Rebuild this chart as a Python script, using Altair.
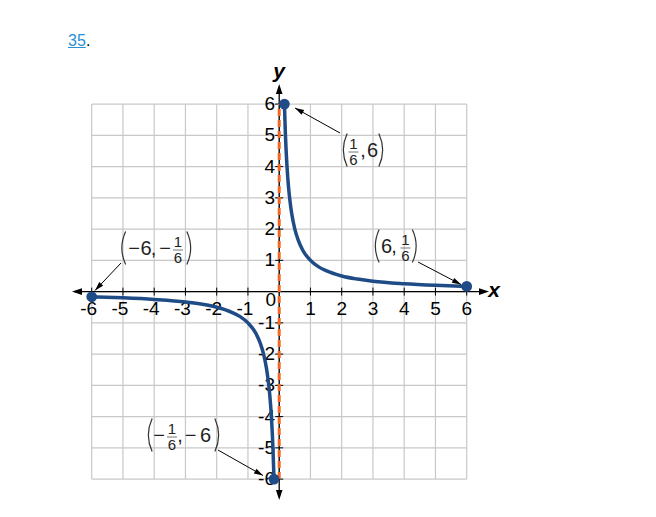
import math
import altair as alt
import pandas as pd

# ---------------- data ----------------
grid_values = [-6, -5, -4, -3, -2, -1, 0, 1, 2, 3, 4, 5, 6]
tick_values = [-6, -5, -4, -3, -2, -1, 1, 2, 3, 4, 5, 6]
tick_labels = ["-6", "-5", "-4", "-3", "-2", "-1", "1", "2", "3", "4", "5", "6"]

pos_branch_x = [0.1667, 0.2, 0.25, 0.3, 0.35, 0.4, 0.5, 0.6, 0.75, 1.0, 1.25, 1.5, 2.0, 2.5, 3.0, 4.0, 5.0, 6.0]
pos_branch_y = [6.0, 5.0, 4.0, 3.33, 2.86, 2.5, 2.0, 1.67, 1.33, 1.0, 0.8, 0.67, 0.5, 0.4, 0.33, 0.25, 0.2, 0.1667]
neg_branch_x = [-6.0, -5.0, -4.0, -3.0, -2.5, -2.0, -1.5, -1.25, -1.0, -0.75, -0.6, -0.5, -0.4, -0.35, -0.3, -0.25, -0.2, -0.1667]
neg_branch_y = [-0.1667, -0.2, -0.25, -0.33, -0.4, -0.5, -0.67, -0.8, -1.0, -1.33, -1.67, -2.0, -2.5, -2.86, -3.33, -4.0, -5.0, -6.0]

endpoint_x = [0.1667, 6.0, -6.0, -0.1667]
endpoint_y = [6.0, 0.1667, -0.1667, -6.0]

label_tokens = {
    "A": ["(", "1/6", ",", "6", ")"],
    "B": ["(", "6", ",", "1/6", ")"],
    "C": ["(", "\u2212", "6", ",", "\u2212", "1/6", ")"],
    "D": ["(", "\u2212", "1/6", ",", "\u2212", "6", ")"],
}

# ---------------- layout (pixels on the page) ----------------
U = 31.25          # pixels per unit
X0, Y0 = 279.2, 291.6  # page position of the origin
W, H = 640, 496
MARGIN = 8


def px2x(p):
    return (p - X0) / U


def py2y(p):
    return (Y0 - p) / U


xs = alt.Scale(domain=[px2x(MARGIN), px2x(MARGIN + W)], nice=False, zero=False)
ys = alt.Scale(domain=[py2y(MARGIN + H), py2y(MARGIN)], nice=False, zero=False)


def X(f):
    return alt.X(f, type="quantitative", scale=xs, axis=None)


def Y(f):
    return alt.Y(f, type="quantitative", scale=ys, axis=None)


FONT = "Liberation Sans"
BLUE = "#1f4c87"
ORANGE = "#f26522"
GRID = "#c8c8c8"

layers = []

# grid
gv = pd.DataFrame({"v": grid_values, "lo": -6, "hi": 6})
layers.append(alt.Chart(gv).mark_rule(color=GRID, strokeWidth=1.2).encode(x=X("v"), y=Y("lo"), y2="hi"))
layers.append(alt.Chart(gv).mark_rule(color=GRID, strokeWidth=1.2).encode(y=Y("v"), x=X("lo"), x2="hi"))

# axes lines
ax = pd.DataFrame({"x": [px2x(74)], "x2": [px2x(484)], "y": [0.0]})
layers.append(alt.Chart(ax).mark_rule(color="black", strokeWidth=1.3).encode(x=X("x"), x2="x2", y=Y("y")))
ay = pd.DataFrame({"y": [py2y(495)], "y2": [py2y(89)], "x": [0.0]})
layers.append(alt.Chart(ay).mark_rule(color="black", strokeWidth=1.3).encode(y=Y("y"), y2="y2", x=X("x")))

# axis arrowheads (tip at origin of the path)
axis_arrows = pd.DataFrame({
    "x": [px2x(72), px2x(489), 0.0, 0.0],
    "y": [0.0, 0.0, py2y(84), py2y(500)],
    "angle": [270, 90, 0, 180],
})
layers.append(alt.Chart(axis_arrows).mark_point(
    shape="M0,0L0.33,1L-0.33,1Z", filled=True, size=400, color="black", opacity=1, strokeWidth=0
).encode(x=X("x"), y=Y("y"), angle=alt.Angle("angle:Q", scale=None)))

# tick marks
tk = pd.DataFrame({"v": tick_values, "lo": -4 / U, "hi": 4 / U, "z": 0.0})
layers.append(alt.Chart(tk).mark_rule(color="black", strokeWidth=1).encode(x=X("v"), y=Y("lo"), y2="hi"))
layers.append(alt.Chart(tk).mark_rule(color="black", strokeWidth=1).encode(y=Y("v"), x=X("lo"), x2="hi"))

# tick labels
TICK_FS = 19
xl = pd.DataFrame({"v": tick_values, "t": tick_labels, "y": py2y(309)})
layers.append(alt.Chart(xl).mark_text(font=FONT, fontSize=TICK_FS, align="right", baseline="middle", dx=5.5, color="black")
              .encode(x=X("v"), y=Y("y"), text="t:N"))
yl = pd.DataFrame({"v": tick_values, "t": tick_labels, "x": px2x(275)})
layers.append(alt.Chart(yl).mark_text(font=FONT, fontSize=TICK_FS, align="right", baseline="middle", color="black")
              .encode(y=Y("v"), x=X("x"), text="t:N"))
zl = pd.DataFrame({"x": [px2x(276)], "y": [py2y(300)], "t": ["0"]})
layers.append(alt.Chart(zl).mark_text(font=FONT, fontSize=TICK_FS, align="right", baseline="middle", color="black")
              .encode(x=X("x"), y=Y("y"), text="t:N"))

# axis titles
at = pd.DataFrame({"x": [px2x(494), px2x(279)], "y": [py2y(291), py2y(72)], "t": ["x", "y"]})
layers.append(alt.Chart(at).mark_text(font=FONT, fontSize=21, fontWeight="bold", fontStyle="italic",
                                      align="center", baseline="middle", color="black")
              .encode(x=X("x"), y=Y("y"), text="t:N"))

# asymptote
asy = pd.DataFrame({"x": [0.0], "lo": [-6.0], "hi": [6.0]})
layers.append(alt.Chart(asy).mark_rule(color=ORANGE, strokeWidth=3, strokeDash=[7, 4])
              .encode(x=X("x"), y=Y("lo"), y2="hi"))

# curve
curve = pd.concat([
    pd.DataFrame({"x": pos_branch_x, "y": pos_branch_y, "b": "pos"}),
    pd.DataFrame({"x": neg_branch_x, "y": neg_branch_y, "b": "neg"}),
])
layers.append(alt.Chart(curve).mark_line(interpolate="monotone", color=BLUE, strokeWidth=3.5, strokeCap="round")
              .encode(x=X("x"), y=Y("y"), detail="b:N"))

# endpoints
ep = pd.DataFrame({"x": endpoint_x, "y": endpoint_y})
layers.append(alt.Chart(ep).mark_point(shape="circle", filled=True, size=115, color=BLUE, opacity=1)
              .encode(x=X("x"), y=Y("y")))

# annotation arrows (page positions of start and tip)
arrow_start = [(340, 133), (418, 262), (121, 263), (218, 450)]
arrow_tip = [(295, 108), (461, 284.5), (95, 290.5), (263, 475.5)]
arr_rows = []
for (sx, sy), (tx, ty) in zip(arrow_start, arrow_tip):
    dx, dy = tx - sx, ty - sy
    ang = math.degrees(math.atan2(dx, -dy)) % 360
    arr_rows.append({"x": px2x(sx), "y": py2y(sy), "x2": px2x(tx), "y2": py2y(ty), "angle": ang})
arr = pd.DataFrame(arr_rows)
layers.append(alt.Chart(arr).mark_rule(color="black", strokeWidth=1).encode(x=X("x"), y=Y("y"), x2="x2", y2="y2"))
layers.append(alt.Chart(arr).mark_point(
    shape="M0,0L0.3,1L-0.3,1Z", filled=True, size=324, color="black", opacity=1, strokeWidth=0
).encode(x=X("x2"), y=Y("y2"), angle=alt.Angle("angle:Q", scale=None)))

# point labels
label_token_px = {
    "A": [344.5, 353.5, 363, 372.5, 381.5],
    "B": [376.5, 386.5, 394, 405.5, 415],
    "C": [123, 134, 146, 153.5, 165, 178, 189.5],
    "D": [149.5, 159, 172, 180, 190.5, 205.5, 217.5],
}
label_center_py = {"A": 150, "B": 246, "C": 248, "D": 435}

lp_rows, rp_rows, big_rows, small_rows, bar_rows = [], [], [], [], []
for key, toks in label_tokens.items():
    cy = label_center_py[key]
    for tok, px in zip(toks, label_token_px[key]):
        if tok == "(":
            lp_rows.append({"x": px2x(px), "y": py2y(cy)})
        elif tok == ")":
            rp_rows.append({"x": px2x(px), "y": py2y(cy)})
        elif tok == "1/6":
            num, den = tok.split("/")
            small_rows.append({"x": px2x(px), "y": py2y(cy - 6.5), "t": num})
            small_rows.append({"x": px2x(px), "y": py2y(cy + 10), "t": den})
            bar_rows.append({"x": px2x(px - 5), "x2": px2x(px + 5), "y": py2y(cy + 2)})
        else:
            big_rows.append({"x": px2x(px), "y": py2y(cy + 1), "t": tok})

layers.append(alt.Chart(pd.DataFrame(lp_rows)).mark_point(
    shape="M0.16,-1Q-0.3,0 0.16,1", filled=False, size=1100, stroke="#333333", strokeWidth=1.2, opacity=1
).encode(x=X("x"), y=Y("y")))
layers.append(alt.Chart(pd.DataFrame(rp_rows)).mark_point(
    shape="M-0.16,-1Q0.3,0 -0.16,1", filled=False, size=1100, stroke="#333333", strokeWidth=1.2, opacity=1
).encode(x=X("x"), y=Y("y")))
layers.append(alt.Chart(pd.DataFrame(big_rows)).mark_text(
    font=FONT, fontSize=20, align="center", baseline="middle", color="#222222"
).encode(x=X("x"), y=Y("y"), text="t:N"))
layers.append(alt.Chart(pd.DataFrame(small_rows)).mark_text(
    font=FONT, fontSize=15, align="center", baseline="middle", color="#222222"
).encode(x=X("x"), y=Y("y"), text="t:N"))
layers.append(alt.Chart(pd.DataFrame(bar_rows)).mark_rule(color="#777777", strokeWidth=1)
              .encode(x=X("x"), x2="x2", y=Y("y")))

# heading "35."
head = pd.DataFrame({"t": ["35"]})
layers.append(alt.Chart(head).mark_text(font=FONT, fontSize=16, align="left", baseline="alphabetic", color="#2a8fd4")
              .encode(x=alt.value(60), y=alt.value(37.5), text="t:N"))
layers.append(alt.Chart(head).mark_rule(color="#2a8fd4", strokeWidth=1)
              .encode(x=alt.value(60), x2=alt.value(77.8), y=alt.value(39.5)))
dot = pd.DataFrame({"t": ["."]})
layers.append(alt.Chart(dot).mark_text(font=FONT, fontSize=16, align="left", baseline="alphabetic", color="black")
              .encode(x=alt.value(78), y=alt.value(37.5), text="t:N"))

chart = alt.layer(*layers).properties(
    width=W, height=H, autosize=alt.AutoSizeParams(type="none"), padding=0
).configure_view(stroke=None)

chart.save("out.html", embed_options={"renderer": "svg", "actions": False})
